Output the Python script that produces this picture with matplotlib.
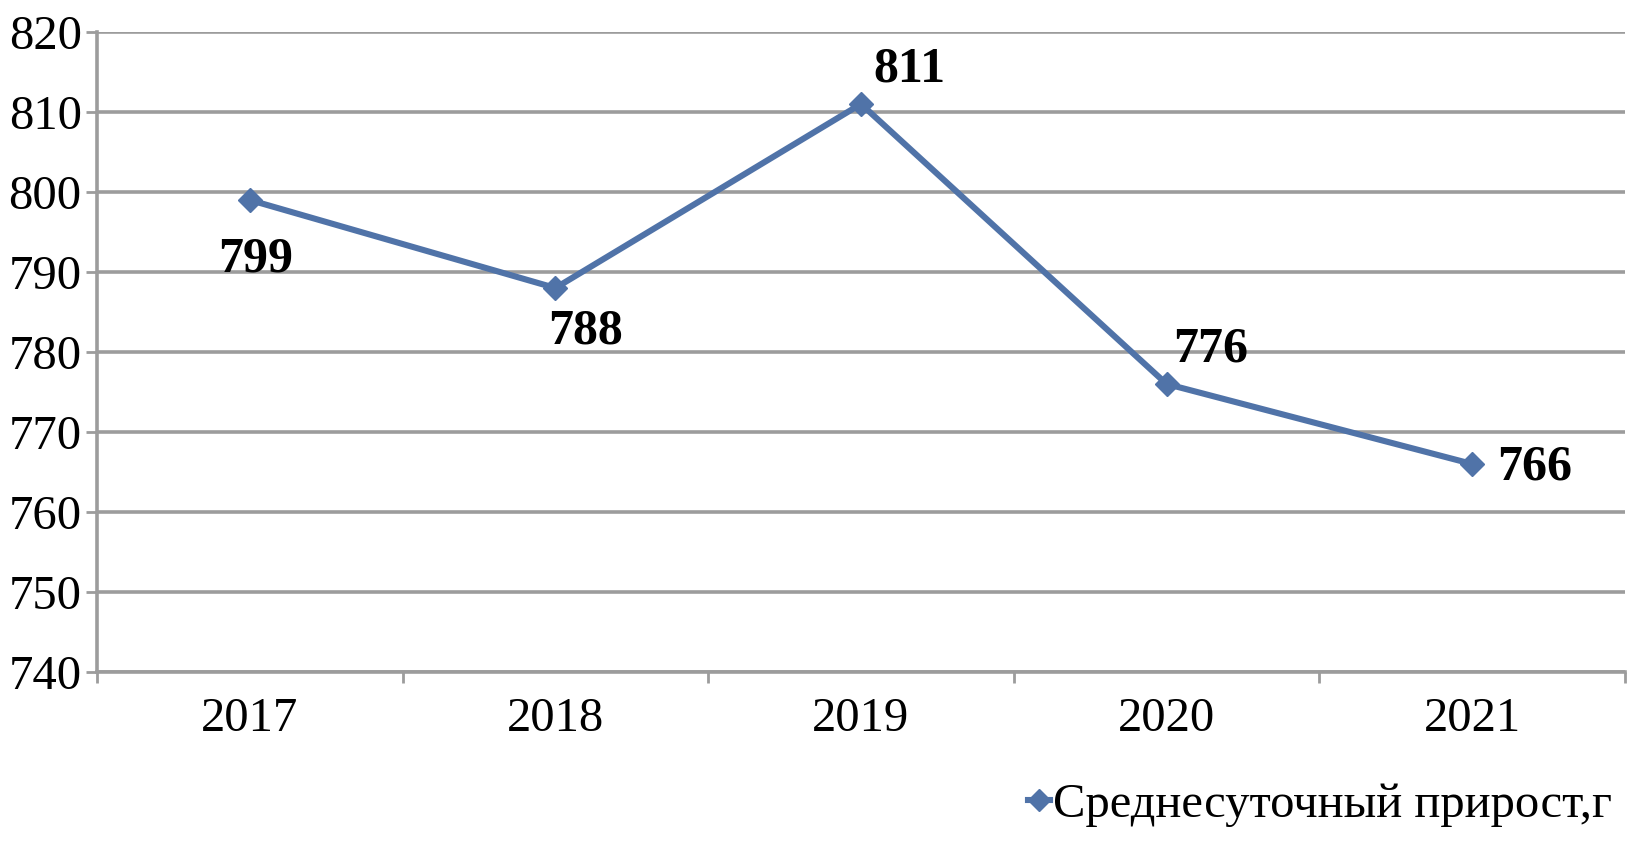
import matplotlib.pyplot as plt
from matplotlib.lines import Line2D

years = ['2017', '2018', '2019', '2020', '2021']
gain = [799, 788, 811, 776, 766]
series_name = 'Среднесуточный прирост,г'
y_ticks = [740, 750, 760, 770, 780, 790, 800, 810, 820]

LINE_COLOR = '#5073A8'
GRID_COLOR = '#9C9C9C'

# label offsets in pixels from each point (x right, y up)
label_offsets = [(6, -60), (30, -44), (48, 34), (44, 34), (62, -4)]

plt.rcParams['font.family'] = ['Liberation Serif', 'DejaVu Serif']

fig = plt.figure(figsize=(16.33, 8.43), dpi=100)
ax = fig.add_axes([97 / 1633, (843 - 672) / 843,
                   (1625 - 97) / 1633, (672 - 32) / 843])

x = list(range(len(years)))
ax.plot(x, gain, color=LINE_COLOR, linewidth=4.4, marker='D',
        markersize=12, markerfacecolor=LINE_COLOR, markeredgecolor=LINE_COLOR,
        zorder=3)

for xi, v, (dx, dy) in zip(x, gain, label_offsets):
    ax.annotate(str(v), (xi, v), xytext=(dx, dy), textcoords='offset pixels',
                ha='center', va='center', fontsize=36, fontweight='bold',
                color='black', zorder=4)

ax.set_xlim(-0.5, len(years) - 0.5)
ax.set_ylim(740, 820)
ax.set_yticks(y_ticks)
ax.set_yticklabels([str(t) for t in y_ticks])
ax.yaxis.grid(True, color=GRID_COLOR, linewidth=2.6)
ax.set_axisbelow(True)

ax.set_xticks(x)
ax.set_xticklabels(years)
ax.set_xticks([i - 0.5 for i in range(len(years) + 1)], minor=True)
ax.tick_params(axis='x', which='major', length=0, pad=18, labelsize=35)
ax.tick_params(axis='x', which='minor', length=8, width=2, color=GRID_COLOR,
               direction='out')
ax.tick_params(axis='y', length=8, width=2, color=GRID_COLOR, pad=3,
               labelsize=35)

for s in ('top', 'right'):
    ax.spines[s].set_visible(False)
for s in ('left', 'bottom'):
    ax.spines[s].set_color(GRID_COLOR)
    ax.spines[s].set_linewidth(2.6)

handle = Line2D([], [], color=LINE_COLOR, linewidth=4.4, marker='D',
                markersize=11)
fig.legend([handle], [series_name], loc='center right',
           bbox_to_anchor=(1631 / 1633, 1 - 805 / 843), frameon=False,
           fontsize=35, handlelength=0.45, handletextpad=0.05,
           borderaxespad=0)

fig.savefig('out.png', dpi=100, facecolor='white')
